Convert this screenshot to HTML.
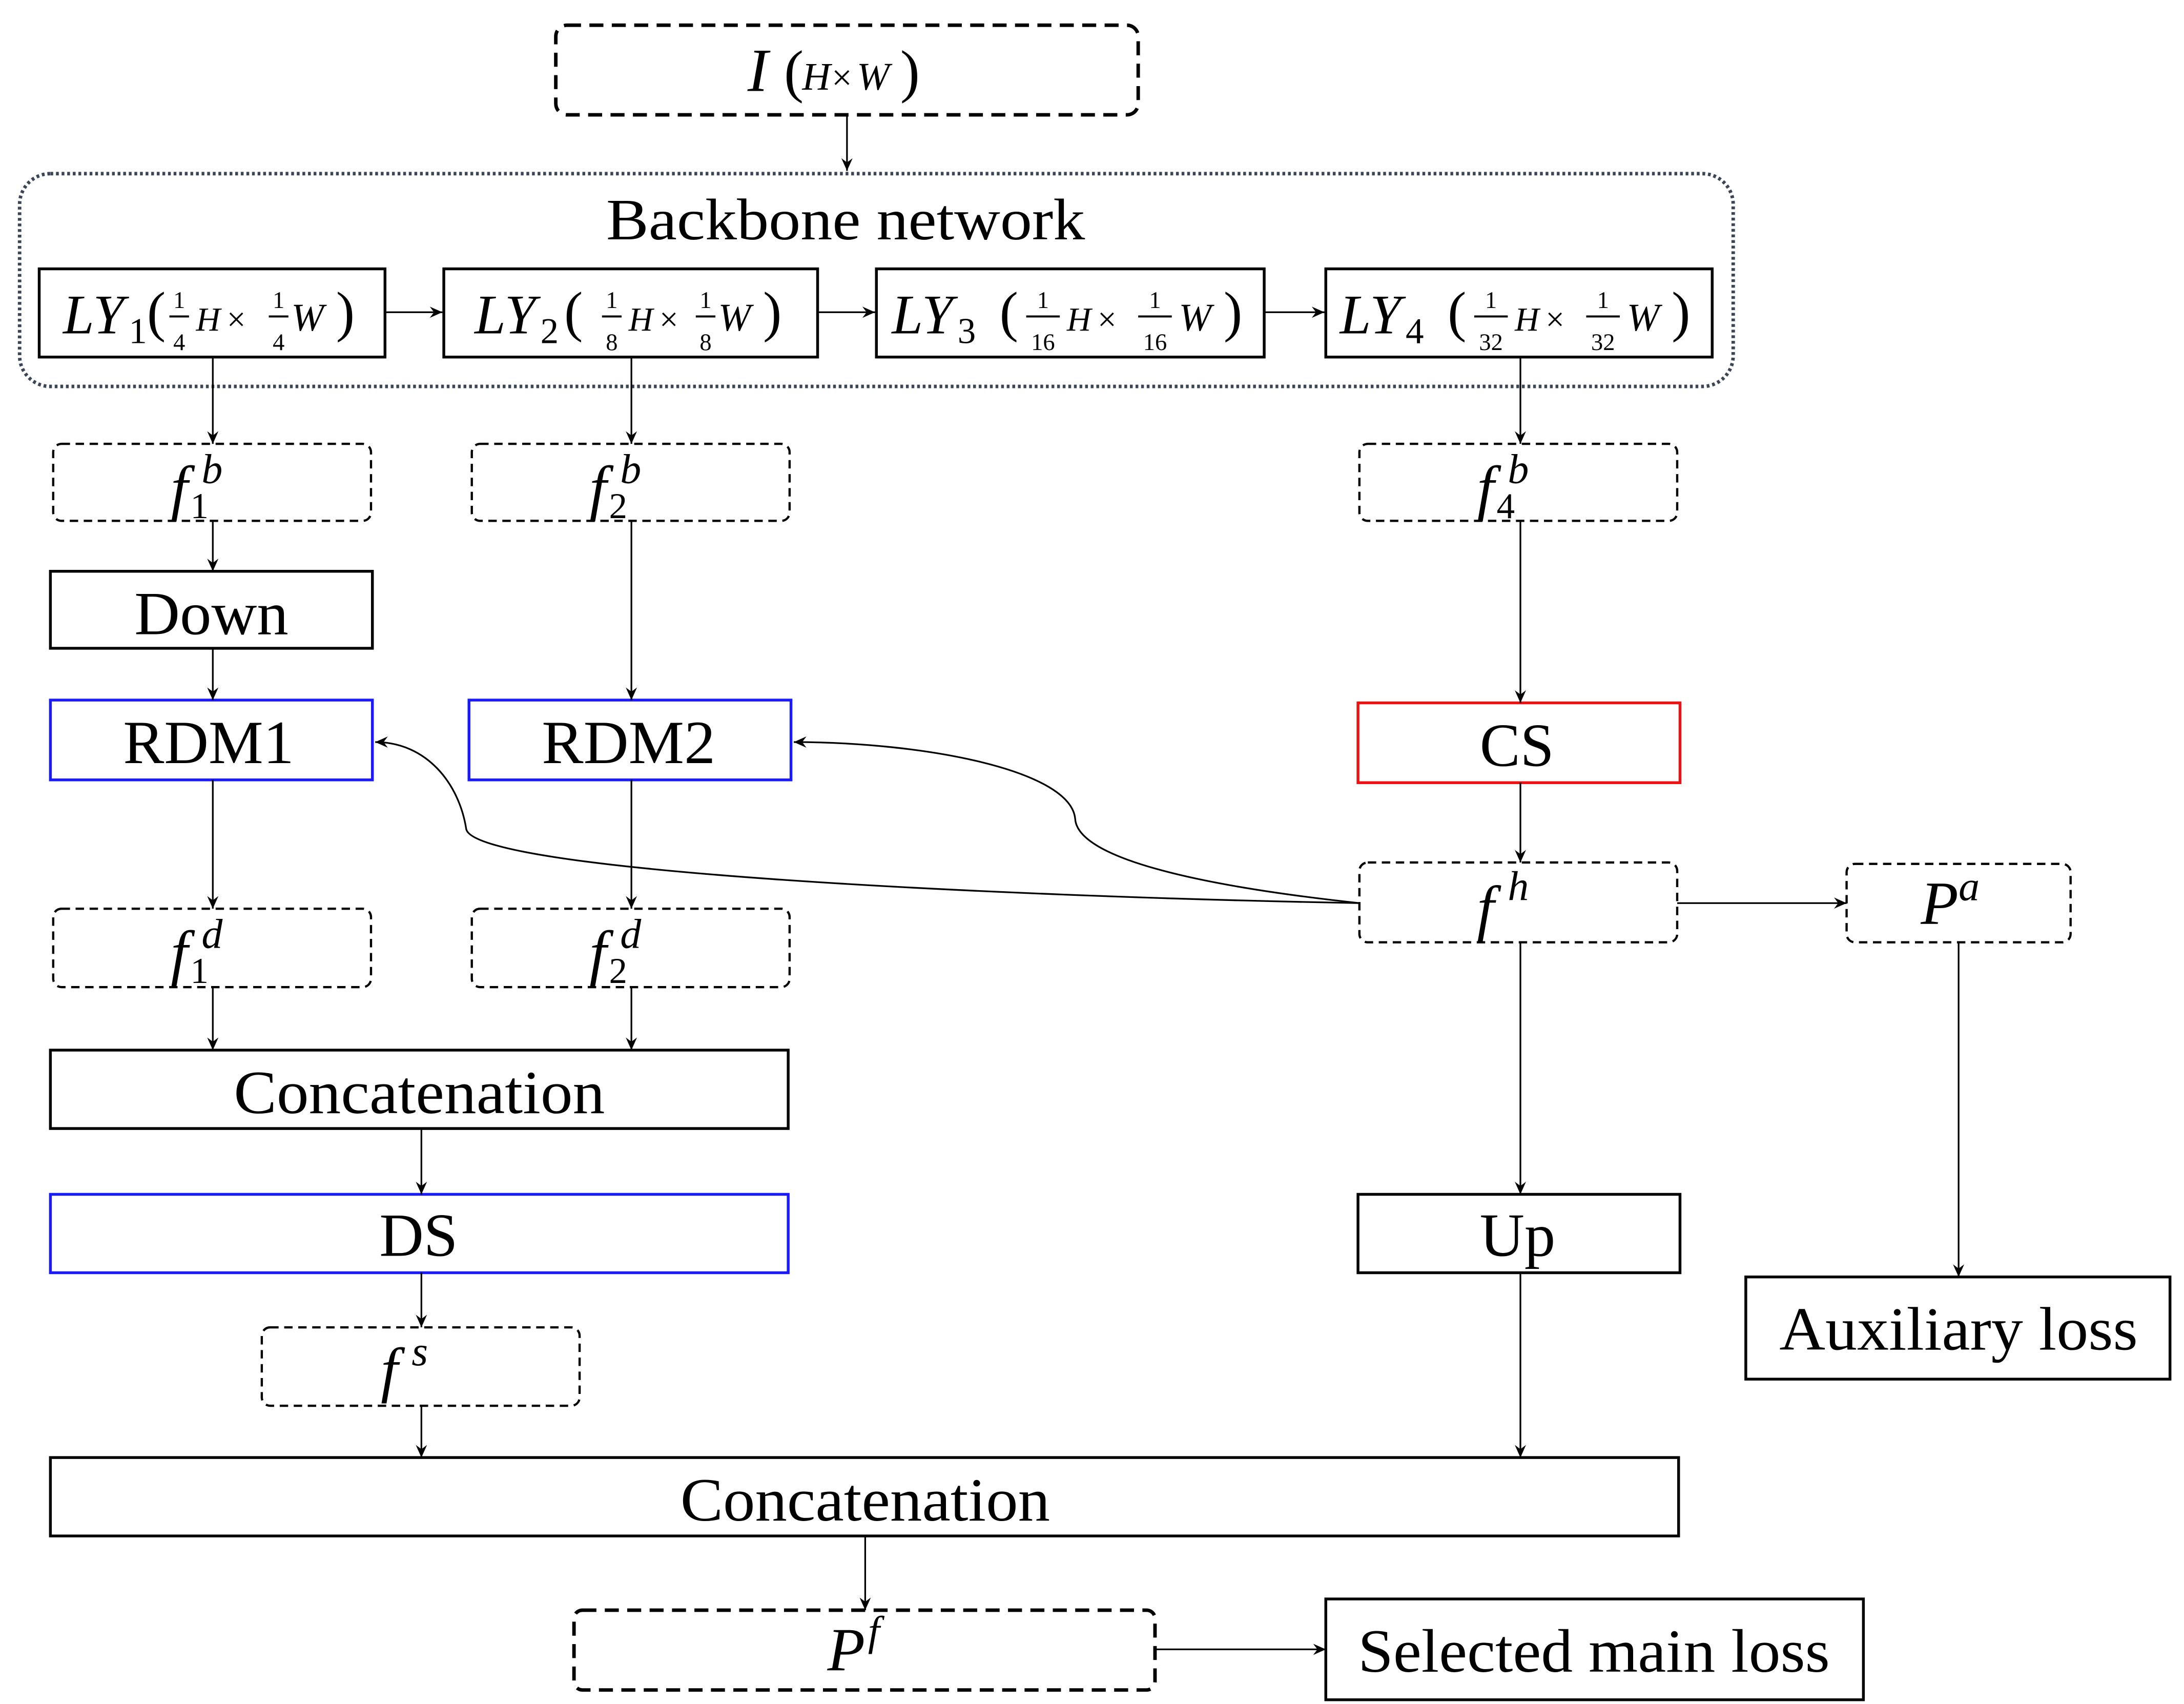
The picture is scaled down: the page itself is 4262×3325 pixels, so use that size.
<!DOCTYPE html>
<html><head><meta charset="utf-8"><style>
html,body{margin:0;padding:0;background:#fff;}
svg{display:block;}
text{font-family:"Liberation Serif",serif;fill:#000;}
.it{font-style:italic;}
</style></head><body>
<svg width="4262" height="3325" viewBox="0 0 1560 1217" xmlns="http://www.w3.org/2000/svg">
<defs>
<marker id="a" markerWidth="10" markerHeight="10" refX="9" refY="5" orient="auto" markerUnits="userSpaceOnUse">
<path d="M0,1 L9,5 L0,9 L3,5 Z" fill="#000"/></marker>
</defs>
<g fill="none" stroke="#000">
<rect x="397" y="18" width="416" height="64" rx="8" stroke-width="2.5" stroke-dasharray="10 6"/>
<rect x="14" y="124" width="1224" height="152" rx="22" stroke="#3a4556" stroke-width="2.5" stroke-dasharray="2 2"/>
<rect x="28" y="192" width="247" height="63" stroke-width="2"/>
<rect x="317" y="192" width="267" height="63" stroke-width="2"/>
<rect x="626" y="192" width="277" height="63" stroke-width="2"/>
<rect x="947" y="192" width="276" height="63" stroke-width="2"/>
<g stroke-width="1.6" stroke-dasharray="6 4">
<rect x="38" y="317" width="227" height="55" rx="6"/>
<rect x="337" y="317" width="227" height="55" rx="6"/>
<rect x="971" y="317" width="227" height="55" rx="6"/>
<rect x="971" y="616" width="227" height="57" rx="6"/>
<rect x="1319" y="617" width="160" height="56" rx="6"/>
<rect x="38" y="649" width="227" height="56" rx="6"/>
<rect x="337" y="649" width="227" height="56" rx="6"/>
<rect x="187" y="948" width="227" height="56" rx="6"/>
</g>
<rect x="410" y="1150" width="415" height="57" rx="6" stroke-width="2.5" stroke-dasharray="10 6"/>
<rect x="36" y="408" width="230" height="55" stroke-width="2"/>
<rect x="36" y="500" width="230" height="57" stroke="#1a1aff" stroke-width="2"/>
<rect x="335" y="500" width="230" height="57" stroke="#1a1aff" stroke-width="2"/>
<rect x="970" y="502" width="230" height="57" stroke="#ee1111" stroke-width="2"/>
<rect x="36" y="750" width="527" height="56" stroke-width="2"/>
<rect x="36" y="853" width="527" height="56" stroke="#1a1aff" stroke-width="2"/>
<rect x="970" y="853" width="230" height="56" stroke-width="2"/>
<rect x="1247" y="912" width="303" height="73" stroke-width="2"/>
<rect x="36" y="1041" width="1163" height="56" stroke-width="2"/>
<rect x="947" y="1142" width="384" height="72" stroke-width="2"/>
<g stroke-width="1.2" marker-end="url(#a)">
<line x1="605" y1="82" x2="605" y2="122"/>
<line x1="275" y1="223" x2="316" y2="223"/>
<line x1="584" y1="223" x2="625" y2="223"/>
<line x1="903" y1="223" x2="946" y2="223"/>
<line x1="152" y1="255" x2="152" y2="317"/>
<line x1="451" y1="255" x2="451" y2="317"/>
<line x1="1086" y1="255" x2="1086" y2="317"/>
<line x1="152" y1="372" x2="152" y2="408"/>
<line x1="152" y1="463" x2="152" y2="500"/>
<line x1="451" y1="372" x2="451" y2="500"/>
<line x1="1086" y1="372" x2="1086" y2="502"/>
<line x1="1086" y1="559" x2="1086" y2="616"/>
<line x1="1198" y1="645" x2="1319" y2="645"/>
<line x1="152" y1="557" x2="152" y2="649"/>
<line x1="451" y1="557" x2="451" y2="649"/>
<line x1="152" y1="705" x2="152" y2="750"/>
<line x1="451" y1="705" x2="451" y2="750"/>
<line x1="301" y1="806" x2="301" y2="853"/>
<line x1="301" y1="909" x2="301" y2="948"/>
<line x1="301" y1="1004" x2="301" y2="1041"/>
<line x1="1086" y1="673" x2="1086" y2="853"/>
<line x1="1086" y1="909" x2="1086" y2="1041"/>
<line x1="1399" y1="673" x2="1399" y2="912"/>
<line x1="618" y1="1097" x2="618" y2="1150"/>
<line x1="825" y1="1178" x2="947" y2="1178"/>
<path d="M971,645 C700,640 338,622 333,592 C328,560 305,530 268,530"/>
<path d="M971,645 C850,632 770,612 768,585 C765,550 660,530 567,530"/>
</g>
</g>
<g font-size="44">
<text x="433" y="171" font-size="42" textLength="342" lengthAdjust="spacingAndGlyphs">Backbone network</text>
<text x="96" y="453" textLength="110" lengthAdjust="spacingAndGlyphs">Down</text>
<text x="88" y="545" textLength="122" lengthAdjust="spacingAndGlyphs">RDM1</text>
<text x="387" y="545" textLength="124" lengthAdjust="spacingAndGlyphs">RDM2</text>
<text x="1057" y="547" textLength="53" lengthAdjust="spacingAndGlyphs">CS</text>
<text x="167" y="795" textLength="265" lengthAdjust="spacingAndGlyphs">Concatenation</text>
<text x="271" y="897" textLength="56" lengthAdjust="spacingAndGlyphs">DS</text>
<text x="1057" y="897" textLength="54" lengthAdjust="spacingAndGlyphs">Up</text>
<text x="1271" y="964" textLength="256" lengthAdjust="spacingAndGlyphs">Auxiliary loss</text>
<text x="486" y="1086" textLength="264" lengthAdjust="spacingAndGlyphs">Concatenation</text>
<text x="970" y="1194" textLength="337" lengthAdjust="spacingAndGlyphs">Selected main loss</text>
</g>
<text x="534" y="65" font-size="44" class="it">I</text>
<text x="560" y="65" font-size="42">(</text>
<text x="573" y="64" font-size="28" class="it">H</text>
<text x="594" y="64" font-size="26">×</text>
<text x="612" y="64" font-size="28" class="it">W</text>
<text x="643" y="65" font-size="42">)</text>
<g font-size="44" class="it">
<text x="122" y="363">f</text><text x="144" y="345" font-size="30">b</text><text x="136" y="370" font-size="26" font-style="normal">1</text>
<text x="421" y="363">f</text><text x="443" y="345" font-size="30">b</text><text x="435" y="370" font-size="26" font-style="normal">2</text>
<text x="1055" y="363">f</text><text x="1077" y="345" font-size="30">b</text><text x="1069" y="370" font-size="26" font-style="normal">4</text>
<text x="1055" y="663">f</text><text x="1077" y="643" font-size="30">h</text>
<text x="1372" y="660">P</text><text x="1399" y="643" font-size="30">a</text>
<text x="122" y="695">f</text><text x="144" y="677" font-size="30">d</text><text x="136" y="702" font-size="26" font-style="normal">1</text>
<text x="421" y="695">f</text><text x="443" y="677" font-size="30">d</text><text x="435" y="702" font-size="26" font-style="normal">2</text>
<text x="272" y="993">f</text><text x="294" y="975" font-size="30">s</text>
<text x="591" y="1193">P</text><text x="620" y="1175" font-size="30">f</text>
</g>
<g>
<text x="45" y="238" font-size="40" class="it">LY</text><text x="92" y="245" font-size="26">1</text>
<text x="105" y="236" font-size="40">(</text>
<text x="128" y="220" font-size="17" text-anchor="middle">1</text><line x1="121" y1="226" x2="135" y2="226" stroke="#000" stroke-width="1.5"/><text x="128" y="250" font-size="17" text-anchor="middle">4</text>
<text x="140" y="236" font-size="24" class="it">H</text><text x="162" y="236" font-size="24">×</text>
<text x="199" y="220" font-size="17" text-anchor="middle">1</text><line x1="192" y1="226" x2="206" y2="226" stroke="#000" stroke-width="1.5"/><text x="199" y="250" font-size="17" text-anchor="middle">4</text>
<text x="208" y="236" font-size="28" class="it">W</text>
<text x="240" y="236" font-size="40">)</text>
</g>
<g>
<text x="339" y="238" font-size="40" class="it">LY</text><text x="386" y="245" font-size="26">2</text>
<text x="403" y="236" font-size="40">(</text>
<text x="437" y="220" font-size="17" text-anchor="middle">1</text><line x1="430" y1="226" x2="444" y2="226" stroke="#000" stroke-width="1.5"/><text x="437" y="250" font-size="17" text-anchor="middle">8</text>
<text x="449" y="236" font-size="24" class="it">H</text><text x="471" y="236" font-size="24">×</text>
<text x="504" y="220" font-size="17" text-anchor="middle">1</text><line x1="497" y1="226" x2="511" y2="226" stroke="#000" stroke-width="1.5"/><text x="504" y="250" font-size="17" text-anchor="middle">8</text>
<text x="513" y="236" font-size="28" class="it">W</text>
<text x="545" y="236" font-size="40">)</text>
</g>
<g>
<text x="637" y="238" font-size="40" class="it">LY</text><text x="684" y="245" font-size="26">3</text>
<text x="714" y="236" font-size="40">(</text>
<text x="745" y="220" font-size="17" text-anchor="middle">1</text><line x1="733" y1="226" x2="757" y2="226" stroke="#000" stroke-width="1.5"/><text x="745" y="250" font-size="17" text-anchor="middle">16</text>
<text x="762" y="236" font-size="24" class="it">H</text><text x="784" y="236" font-size="24">×</text>
<text x="825" y="220" font-size="17" text-anchor="middle">1</text><line x1="813" y1="226" x2="837" y2="226" stroke="#000" stroke-width="1.5"/><text x="825" y="250" font-size="17" text-anchor="middle">16</text>
<text x="842" y="236" font-size="28" class="it">W</text>
<text x="874" y="236" font-size="40">)</text>
</g>
<g>
<text x="957" y="238" font-size="40" class="it">LY</text><text x="1004" y="245" font-size="26">4</text>
<text x="1034" y="236" font-size="40">(</text>
<text x="1065" y="220" font-size="17" text-anchor="middle">1</text><line x1="1053" y1="226" x2="1077" y2="226" stroke="#000" stroke-width="1.5"/><text x="1065" y="250" font-size="17" text-anchor="middle">32</text>
<text x="1082" y="236" font-size="24" class="it">H</text><text x="1104" y="236" font-size="24">×</text>
<text x="1145" y="220" font-size="17" text-anchor="middle">1</text><line x1="1133" y1="226" x2="1157" y2="226" stroke="#000" stroke-width="1.5"/><text x="1145" y="250" font-size="17" text-anchor="middle">32</text>
<text x="1162" y="236" font-size="28" class="it">W</text>
<text x="1194" y="236" font-size="40">)</text>
</g>
</svg>
</body></html>
